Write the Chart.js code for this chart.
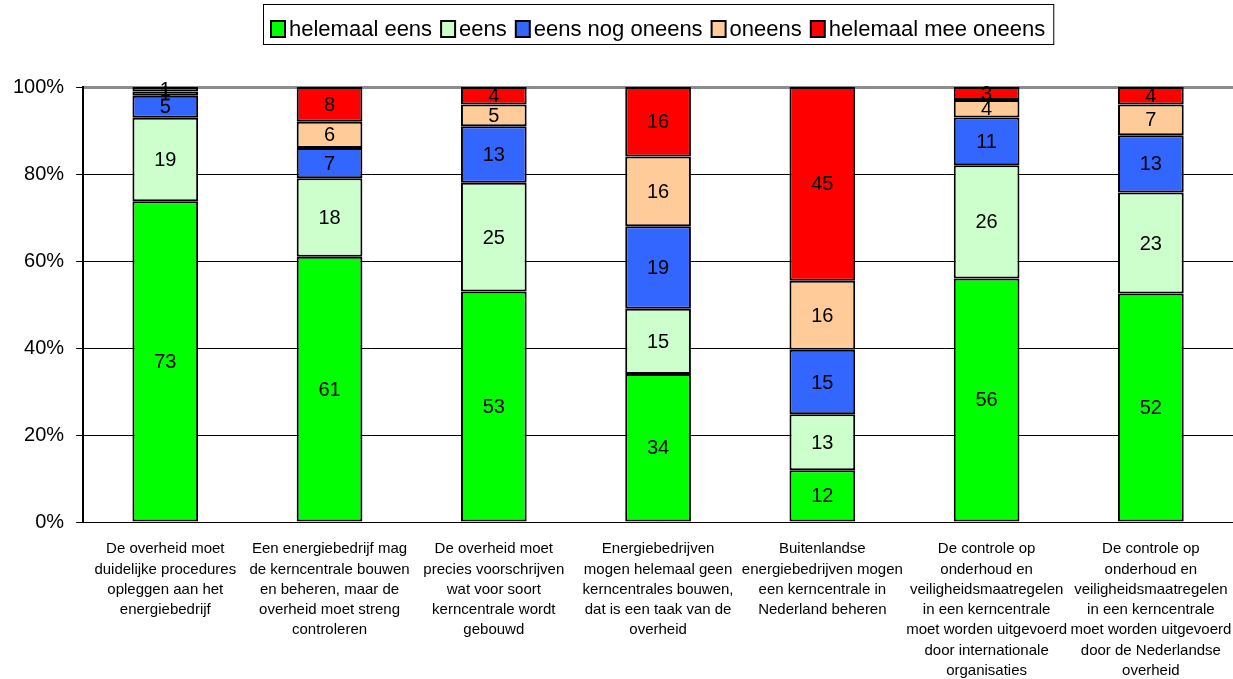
<!DOCTYPE html>
<html><head><meta charset="utf-8">
<script src="https://cdn.jsdelivr.net/npm/chart.js@4.4.1/dist/chart.umd.min.js"></script>
<style>
html,body{margin:0;padding:0;background:#fff}
#wrap{width:1233px;height:679px;position:relative}
</style>
</head><body>
<div id="wrap"><canvas id="c"></canvas></div>
<script>
// Statements (x-axis categories), one array of lines per statement
const categories = [
  ["De overheid moet","duidelijke procedures","opleggen aan het","energiebedrijf"],
  ["Een energiebedrijf mag","de kerncentrale bouwen","en beheren, maar de","overheid moet streng","controleren"],
  ["De overheid moet","precies voorschrijven","wat voor soort","kerncentrale wordt","gebouwd"],
  ["Energiebedrijven","mogen helemaal geen","kerncentrales bouwen,","dat is een taak van de","overheid"],
  ["Buitenlandse","energiebedrijven mogen","een kerncentrale in","Nederland beheren"],
  ["De controle op","onderhoud en","veiligheidsmaatregelen","in een kerncentrale","moet worden uitgevoerd","door internationale","organisaties"],
  ["De controle op","onderhoud en","veiligheidsmaatregelen","in een kerncentrale","moet worden uitgevoerd","door de Nederlandse","overheid"]
];
const seriesNames = ["helemaal eens","eens","eens nog oneens","oneens","helemaal mee oneens"];
const helemaalEens      = [73, 61, 53, 34, 12, 56, 52];
const eens              = [19, 18, 25, 15, 13, 26, 23];
const eensNogOneens     = [ 5,  7, 13, 19, 15, 11, 13];
const oneens            = [ 1,  6,  5, 16, 16,  4,  7];
const helemaalMeeOneens = [ 1,  8,  4, 16, 45,  3,  4];
const yTicks = [0, 20, 40, 60, 80, 100];
const colors = ['#00ff00', '#ccffcc', '#3366ff', '#ffcc99', '#ff0000'];

const FONT = '"Liberation Sans", Arial, sans-serif';
const rawSeries = [helemaalEens, eens, eensNogOneens, oneens, helemaalMeeOneens];
// 100% stacked: each segment is its share of the statement's total
const totals = categories.map((_, i) => rawSeries.reduce((s, arr) => s + arr[i], 0));
const datasets = rawSeries.map((arr, k) => ({
  label: seriesNames[k],
  raw: arr,
  data: arr.map((v, i) => v / totals[i] * 100),
  backgroundColor: colors[k],
  borderColor: '#000',
  borderWidth: 2,
  borderSkipped: false,
  categoryPercentage: 1,
  barPercentage: 0.4
}));

// Value labels centred in each segment
const valueLabels = {
  id: 'valueLabels',
  afterDatasetsDraw(chart) {
    const ctx = chart.ctx;
    ctx.save();
    ctx.font = '20px ' + FONT;
    ctx.fillStyle = '#000';
    ctx.textAlign = 'center';
    ctx.textBaseline = 'middle';
    chart.data.datasets.forEach((ds, di) => {
      chart.getDatasetMeta(di).data.forEach((el, i) => {
        ctx.fillText(String(ds.raw[i]), el.x, (el.y + el.base) / 2 + 1);
      });
    });
    ctx.restore();
  }
};

// Boxed legend above the plot
const boxLegend = {
  id: 'boxLegend',
  afterDraw(chart) {
    const ctx = chart.ctx;
    const ca = chart.chartArea;
    ctx.save();
    ctx.font = '22px ' + FONT;
    const sq = 14, gapText = 4, gapItem = 9, padX = 8;
    const widths = seriesNames.map(n => ctx.measureText(n).width);
    let total = padX * 2;
    widths.forEach((w, i) => { total += sq + gapText + w + (i < widths.length - 1 ? gapItem : 0); });
    const cx = (ca.left + ca.right) / 2;
    const left = Math.round(cx - total / 2);
    const top = 4, h = 40, midY = 29;
    ctx.fillStyle = '#fff';
    ctx.fillRect(left, top, total, h);
    ctx.strokeStyle = '#000';
    ctx.lineWidth = 1;
    ctx.strokeRect(left + 0.5, top + 0.5, total, h);
    let x = left + padX;
    ctx.textBaseline = 'middle';
    ctx.textAlign = 'left';
    seriesNames.forEach((n, i) => {
      ctx.fillStyle = colors[i];
      ctx.fillRect(x, midY - 8, sq, 16);
      ctx.lineWidth = 2;
      ctx.strokeStyle = '#000';
      ctx.strokeRect(x, midY - 8, sq, 16);
      ctx.fillStyle = '#000';
      ctx.fillText(n, x + sq + gapText, midY + 1);
      x += sq + gapText + widths[i] + gapItem;
    });
    ctx.restore();
  }
};

new Chart(document.getElementById('c'), {
  type: 'bar',
  data: { labels: categories, datasets },
  options: {
    responsive: true,
    maintainAspectRatio: false,
    animation: false,
    layout: { padding: { top: 87, left: 1, right: 0, bottom: 0 } },
    plugins: { legend: { display: false }, tooltip: { enabled: false } },
    scales: {
      x: {
        stacked: true,
        grid: { display: false },
        border: { display: true, color: '#000', width: 1 },
        afterFit(scale) {
          scale.height = 157;
          scale.paddingRight = 0;
          scale.paddingLeft = 0;
        },
        ticks: {
          color: '#000',
          padding: 9,
          maxRotation: 0,
          autoSkip: false,
          font: { family: FONT, size: 15, lineHeight: 1.35 }
        }
      },
      y: {
        stacked: true,
        min: 0,
        max: 100,
        afterBuildTicks(scale) { scale.ticks = yTicks.map(v => ({ value: v })); },
        grid: {
          color: c => (c.tick && c.tick.value === 100) ? '#8c8c8c' : '#000',
          lineWidth: c => (c.tick && c.tick.value === 100) ? 3 : 1,
          tickLength: 7,
          tickColor: '#000',
          tickWidth: 1
        },
        border: { display: true, color: '#000', width: 2 },
        ticks: {
          color: '#000',
          padding: 12,
          font: { family: FONT, size: 20 },
          callback: v => v + '%'
        }
      }
    }
  },
  plugins: [valueLabels, boxLegend]
});
</script>
</body></html>
